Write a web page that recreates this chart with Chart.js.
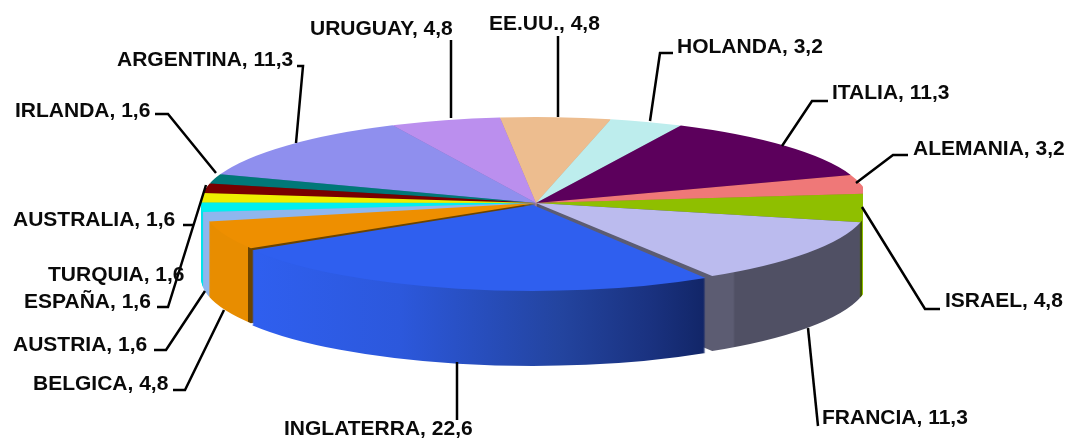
<!DOCTYPE html>
<html>
<head>
<meta charset="utf-8">
<style>html,body{margin:0;padding:0;background:#fff}canvas{display:block}</style>
<script src="https://cdn.jsdelivr.net/npm/chart.js@4"></script>
</head>
<body>
<canvas id="c" width="1070" height="440"></canvas>
<script>
const categories = ["HOLANDA","ITALIA","ALEMANIA","ISRAEL","FRANCIA","INGLATERRA","BELGICA","AUSTRIA","ESPAÑA","TURQUIA","AUSTRALIA","IRLANDA","ARGENTINA","URUGUAY","EE.UU."];
const values = [3.2,11.3,3.2,4.8,11.3,22.6,4.8,1.6,1.6,1.6,1.6,1.6,11.3,4.8,4.8];
const topColors = ["#BDEDED","#5C005C","#EF7878","#8FBF00","#BBBBEE","#2F5FEF","#EE8F00","#8FB6EE","#00EFEF","#EEEE00","#780000","#007878","#8F8FEE","#BB8FEE","#EDBD8F"];
const wallColors = ["#9CC4C4","#3C003C","#C06060","#3F5500","#505064","#2F5FEF","#E88D00","#8FB6EE","#00E4E8","#C8C800","#5A0000","#005A5A","#7070C0","#9870C0","#C09870"];
const wallStops = {
  3: [[861.5,"#3F5500"],[862.5,"#8FBF00"]],
  4: [[716,"#5C5C72"],[733,"#5C5C72"],[735,"#505064"]],
  5: [[253,"#2F5FEF"],[400,"#2C58DC"],[560,"#23449F"],[650,"#1A3280"],[704,"#122668"]],
  6: [[247.5,"#E88D00"],[248,"#6B4400"]]
};
const labelLayout = [
  [677,46],[832,92],[913,148],[945,300],[822,417],[284,428],[33,383],[13,344],[24,301],[48,274],[13,219],[15,110],[117,59],[310,28],[489,23]
];
const leaderLines = [
  [[673,53],[660,53],[650,121]],
  [[828,101],[812,101],[782,146]],
  [[908,155],[893,155],[856,183]],
  [[940,309],[925,309],[862,207]],
  [[818,426],[808,328]],
  [[457,420],[457,362]],
  [[173,390],[185,390],[224,310]],
  [[154,350],[166,350],[205,291]],
  [[157,307],[168,307],[206,185]],
  [[183,225],[194,225]],
  [[155,114],[168,114],[216,173]],
  [[297,66],[303,66],[296,143]],
  [[451,40],[451,118]],
  [[558,36],[558,117]]
];
const view = {apexX:536, apexY:203, rxLeft:335, rxRight:333, rightEdge:863, ry:86, depth:75, explodedIndex:5, exRxLeft:330, exRxRight:326, explodedX:533, explodedY:205};

function setupTransform(ctx, arc, ax, ay, rx, ry){
  const R = arc.outerRadius;
  ctx.translate(ax, ay);
  ctx.scale(rx/R, ry/R);
  ctx.translate(-arc.x, -arc.y);
}
function wallPaint(ctx, i, arc, ax, rx){
  const stops = wallStops[i];
  if(!stops) return wallColors[i];
  const k = arc.outerRadius/rx;
  const toLocal = X => (X-ax)*k + arc.x;
  const x0 = stops[0][0], x1 = stops[stops.length-1][0];
  const g = ctx.createLinearGradient(toLocal(x0),0,toLocal(x1),0);
  stops.forEach(s => g.addColorStop((s[0]-x0)/(x1-x0), s[1]));
  return g;
}
function drawWith(ctx, arc, paint){
  const orig = arc.options;
  const o = Object.create(orig);
  o.backgroundColor = paint;
  o.borderWidth = 0;
  arc.options = o;
  arc.draw(ctx);
  arc.options = orig;
}
function drawSide(ctx, arcs, clipRect, ax, ay, rx){
  ctx.save();
  ctx.beginPath();
  ctx.rect(clipRect[0],clipRect[1],clipRect[2],clipRect[3]);
  ctx.clip();
  arcs.forEach(e => {
    const paint = wallPaint(ctx, e.i, e.arc, ax, rx);
    for(let d=view.depth; d>=1; d--){
      ctx.save();
      setupTransform(ctx, e.arc, ax, ay+d, rx, view.ry);
      drawWith(ctx, e.arc, paint);
      ctx.restore();
    }
  });
  arcs.forEach(e => {
    ctx.save();
    setupTransform(ctx, e.arc, ax, ay, rx, view.ry);
    drawWith(ctx, e.arc, topColors[e.i]);
    ctx.restore();
  });
  ctx.restore();
}
const frontness = e => Math.sin((e.arc.startAngle + e.arc.endAngle)/2);
const pie3d = {
  id:"pie3d",
  beforeDatasetsDraw(chart){
    const ctx = chart.ctx;
    const all = chart.getDatasetMeta(0).data.map((arc,i)=>({arc,i}));
    const rest = all.filter(e=>e.i!==view.explodedIndex).sort((a,b)=>frontness(a)-frontness(b));
    drawSide(ctx, rest, [0,0,view.apexX,440], view.apexX, view.apexY, view.rxLeft);
    drawSide(ctx, rest, [view.apexX,0,view.rightEdge-view.apexX,440], view.apexX, view.apexY, view.rxRight);
    const ex = [all[view.explodedIndex]];
    drawSide(ctx, ex, [0,0,view.explodedX,440], view.explodedX, view.explodedY, view.exRxLeft);
    drawSide(ctx, ex, [view.explodedX,0,1070,440], view.explodedX, view.explodedY, view.exRxRight);
    return false;
  },
  afterDraw(chart){
    const ctx = chart.ctx;
    ctx.save();
    ctx.strokeStyle = "#000";
    ctx.lineWidth = 2.5;
    leaderLines.forEach(pts => {
      ctx.beginPath();
      pts.forEach((p,i)=> i ? ctx.lineTo(p[0],p[1]) : ctx.moveTo(p[0],p[1]));
      ctx.stroke();
    });
    ctx.fillStyle = "#0a0a0a";
    ctx.font = "bold 21px 'Liberation Sans', Arial, sans-serif";
    ctx.textAlign = "left";
    ctx.textBaseline = "middle";
    categories.forEach((c,i)=>{
      const txt = c + ", " + String(values[i]).replace(".",",");
      ctx.fillText(txt, labelLayout[i][0], labelLayout[i][1]+1);
    });
    ctx.restore();
  }
};
new Chart(document.getElementById("c"),{
  type:"pie",
  data:{labels:categories,datasets:[{data:values,backgroundColor:topColors,borderWidth:0}]},
  options:{
    responsive:false,animation:false,rotation:13,
    layout:{padding:0},
    plugins:{legend:{display:false},tooltip:{enabled:false}}
  },
  plugins:[pie3d]
});
</script>
</body>
</html>
